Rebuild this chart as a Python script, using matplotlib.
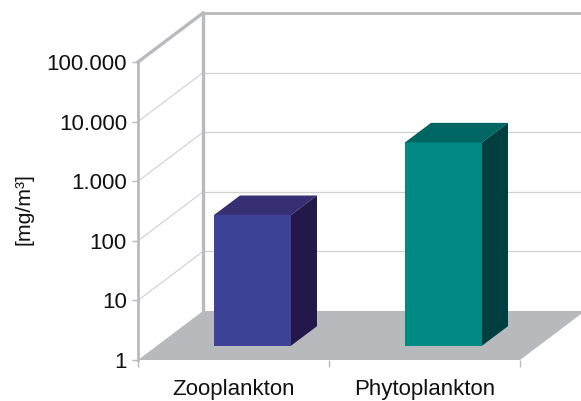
import matplotlib
matplotlib.use("Agg")
import matplotlib.pyplot as plt
from matplotlib.transforms import Affine2D
from matplotlib.ticker import FixedLocator, NullLocator, FixedFormatter

categories = ["Zooplankton", "Phytoplankton"]
values = [156, 2580]
tick_vals = [1, 10, 100, 1000, 10000, 100000]
tick_labels = ["1", "10", "100", "1.000", "10.000", "100.000"]

front_cols = ["#3e4398", "#008a84"]
top_cols = ["#372f73", "#006664"]
side_cols = ["#221849", "#003f40"]
frame = "#b8babf"
grid = "#cfd0d2"
floor = "#b7b9bd"

plt.rcParams["font.family"] = ["Liberation Sans", "DejaVu Sans"]

W, H = 581, 401
fig = plt.figure(figsize=(W / 100, H / 100), dpi=100)
ax = fig.add_axes([138 / W, (H - 360) / H, 382 / W, 298 / H])
ax.set_yscale("log")
ax.set_xlim(0, 2)
ax.set_ylim(1, 100000)
for s in ax.spines.values():
    s.set_visible(False)
ax.patch.set_visible(False)

# oblique projection: shift in screen pixels for things further back
back = ax.transData + Affine2D().translate(65, 49)
near = ax.transData + Affine2D().translate(19, 14.3)
far = ax.transData + Affine2D().translate(45, 33.8)


def poly(points, col, z):
    xs = [p[0] for p in points]
    ys = [p[1] for p in points]
    ax.fill(xs, ys, color=col, lw=0, transform=None, clip_on=False, zorder=z)


# floor
poly([ax.transData.transform((0, 1)), ax.transData.transform((2, 1)),
      back.transform((2, 1)), back.transform((0, 1))], floor, 1)

# walls
for v in tick_vals[1:-1]:
    ax.plot([0, 2], [v, v], color=grid, lw=0.9, transform=back, clip_on=False, zorder=1)
    p0 = ax.transData.transform((0, v))
    p1 = back.transform((0, v))
    ax.plot([p0[0], p1[0]], [p0[1], p1[1]], color=grid, lw=0.8, transform=None, clip_on=False, zorder=1)

ax.plot([0, 2], [100000, 100000], color=frame, lw=2, transform=back, clip_on=False, zorder=2)
ax.plot([0, 0], [1, 100000], color=frame, lw=2.4, transform=back, clip_on=False, zorder=2)
ax.plot([0, 0], [1, 100000], color=frame, lw=2, clip_on=False, zorder=2)
p0 = ax.transData.transform((0, 100000))
p1 = back.transform((0, 100000))
ax.plot([p0[0], p1[0]], [p0[1], p1[1]], color=frame, lw=2.4, transform=None, clip_on=False, zorder=2)

# bars
bar_w = 0.403
for i, v in enumerate(values):
    l, r = i + 0.5 - bar_w / 2, i + 0.5 + bar_w / 2
    fl = near.transform((l, 1))
    fr = near.transform((r, 1))
    tl = near.transform((l, v))
    tr = near.transform((r, v))
    bl = far.transform((l, v))
    br = far.transform((r, v))
    br0 = far.transform((r, 1))
    poly([fl, fr, tr, tl], front_cols[i], 5)
    poly([tl, tr, br, bl], top_cols[i], 5)
    poly([fr, br0, br, tr], side_cols[i], 5)

ax.yaxis.set_major_locator(FixedLocator(tick_vals))
ax.yaxis.set_major_formatter(FixedFormatter(tick_labels))
ax.yaxis.set_minor_locator(NullLocator())
ax.set_xticks([0, 1, 2])
ax.set_xticklabels([])
ax.set_xticks([0.5, 1.5], minor=True)
ax.set_xticklabels(categories, minor=True)
ax.tick_params(axis="y", which="major", length=4.5, width=1, color=frame, labelsize=16, pad=3.5, labelcolor="#111111")
ax.tick_params(axis="x", which="major", length=5, width=1, color=frame)
ax.tick_params(axis="x", which="minor", length=0, labelsize=16, pad=13.5, labelcolor="#111111")

fig.text(24 / W, (H - 209) / H, "[mg/m³]", rotation=90, ha="center", va="center", fontsize=15.3, color="#111111")

fig.savefig("out.png", dpi=100)
